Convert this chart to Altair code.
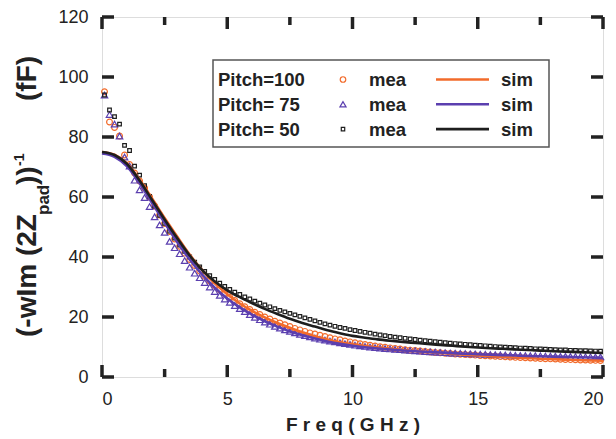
import altair as alt
import pandas as pd

# ---------------- data ----------------
freq_mea = [0.1, 0.3, 0.5, 0.7, 0.9, 1.1, 1.3, 1.5, 1.7, 1.9,
            2.1, 2.3, 2.5, 2.7, 2.9, 3.1, 3.3, 3.5, 3.7, 3.9,
            4.1, 4.3, 4.5, 4.7, 4.9, 5.1, 5.3, 5.5, 5.7, 5.9,
            6.1, 6.3, 6.5, 6.7, 6.9, 7.1, 7.3, 7.5, 7.7, 7.9,
            8.1, 8.3, 8.5, 8.7, 8.9, 9.1, 9.3, 9.5, 9.7, 9.9,
            10.1, 10.3, 10.5, 10.7, 10.9, 11.1, 11.3, 11.5, 11.7, 11.9,
            12.1, 12.3, 12.5, 12.7, 12.9, 13.1, 13.3, 13.5, 13.7, 13.9,
            14.1, 14.3, 14.5, 14.7, 14.9, 15.1, 15.3, 15.5, 15.7, 15.9,
            16.1, 16.3, 16.5, 16.7, 16.9, 17.1, 17.3, 17.5, 17.7, 17.9,
            18.1, 18.3, 18.5, 18.7, 18.9, 19.1, 19.3, 19.5, 19.7, 19.9]

mea_100 = [95.1, 85.0, 83.2, 80.3, 74.0, 70.8, 68.0, 65.3, 63.0, 60.0,
           57.0, 54.0, 51.2, 48.5, 46.0, 43.6, 41.3, 39.2, 37.2, 35.3,
           33.6, 32.0, 30.5, 29.1, 27.8, 26.6, 25.5, 24.4, 23.4, 22.5,
           21.6, 20.8, 20.0, 19.3, 18.6, 18.0, 17.4, 16.8, 16.2, 15.7,
           15.2, 14.7, 14.3, 13.9, 13.5, 13.1, 12.7, 12.4, 12.0, 11.7,
           11.4, 11.1, 10.8, 10.6, 10.3, 10.1, 9.9, 9.7, 9.5, 9.3,
           9.1, 8.95, 8.8, 8.65, 8.5, 8.35, 8.2, 8.1, 7.95, 7.85,
           7.7, 7.6, 7.5, 7.4, 7.3, 7.2, 7.1, 7.0, 6.9, 6.8,
           6.75, 6.65, 6.55, 6.5, 6.4, 6.35, 6.25, 6.2, 6.1, 6.05,
           6.0, 5.9, 5.85, 5.8, 5.75, 5.7, 5.65, 5.6, 5.55, 5.5]

mea_75 = [94.0, 87.5, 84.3, 80.3, 73.3, 70.3, 65.6, 62.4, 59.8, 56.8,
          53.4, 50.7, 48.2, 45.2, 43.1, 41.1, 38.8, 36.6, 34.6, 33.1,
          31.5, 30.0, 28.5, 27.2, 26.0, 24.9, 23.8, 22.8, 21.8, 20.8,
          19.9, 19.1, 18.3, 17.6, 16.9, 16.3, 15.7, 15.2, 14.7, 14.2,
          13.8, 13.4, 13.0, 12.6, 12.3, 12.0, 11.7, 11.4, 11.1, 10.9,
          10.6, 10.4, 10.2, 10.0, 9.8, 9.65, 9.5, 9.35, 9.2, 9.1,
          8.95, 8.85, 8.75, 8.6, 8.5, 8.4, 8.3, 8.2, 8.1, 8.0,
          7.95, 7.9, 7.8, 7.75, 7.7, 7.6, 7.55, 7.5, 7.45, 7.4,
          7.35, 7.3, 7.25, 7.2, 7.15, 7.1, 7.1, 7.05, 7.0, 7.0,
          6.95, 6.9, 6.9, 6.85, 6.8, 6.8, 6.75, 6.75, 6.7, 6.7]

mea_50 = [94.0, 89.0, 86.8, 84.3, 77.2, 75.5, 70.3, 67.3, 63.8, 60.2,
          57.0, 53.9, 51.2, 48.6, 46.3, 44.0, 41.9, 40.0, 38.3, 36.7,
          35.2, 33.8, 32.5, 31.3, 30.2, 29.2, 28.3, 27.5, 26.7, 26.0,
          25.3, 24.6, 24.0, 23.4, 22.8, 22.2, 21.7, 21.2, 20.7, 20.2,
          19.7, 19.2, 18.7, 18.2, 17.7, 17.3, 16.9, 16.5, 16.2, 15.8,
          15.5, 15.2, 14.9, 14.6, 14.3, 14.0, 13.8, 13.5, 13.3, 13.1,
          12.9, 12.7, 12.5, 12.3, 12.1, 11.95, 11.8, 11.6, 11.45, 11.3,
          11.15, 11.0, 10.9, 10.75, 10.6, 10.5, 10.4, 10.25, 10.15, 10.05,
          9.95, 9.85, 9.75, 9.65, 9.6, 9.5, 9.4, 9.35, 9.25, 9.2,
          9.1, 9.05, 9.0, 8.9, 8.85, 8.8, 8.75, 8.7, 8.65, 8.6]

freq_sim = [0.0, 0.5, 1.0, 1.5, 2.0, 2.5, 3.0, 3.5, 4.0, 4.5,
            5.0, 5.5, 6.0, 6.5, 7.0, 7.5, 8.0, 8.5, 9.0, 9.5,
            10.0, 10.5, 11.0, 11.5, 12.0, 12.5, 13.0, 13.5, 14.0, 14.5,
            15.0, 15.5, 16.0, 16.5, 17.0, 17.5, 18.0, 18.5, 19.0, 19.5, 20.0]

sim_100 = [75.0, 74.1, 71.2, 65.8, 59.5, 53.0, 46.8, 40.8, 35.6, 31.2,
           27.6, 24.5, 22.0, 19.9, 18.0, 16.4, 14.9, 13.6, 12.5, 11.6,
           10.9, 10.35, 9.85, 9.4, 9.0, 8.65, 8.3, 8.0, 7.7, 7.4,
           7.15, 6.9, 6.7, 6.5, 6.3, 6.1, 5.95, 5.8, 5.65, 5.5, 5.4]

sim_75 = [74.5, 73.4, 70.2, 64.6, 58.0, 51.4, 45.0, 39.2, 34.1, 29.8,
          26.2, 23.2, 20.7, 18.6, 16.8, 15.2, 13.9, 12.8, 11.85, 11.05,
          10.4, 9.9, 9.5, 9.15, 8.85, 8.6, 8.35, 8.15, 7.95, 7.75,
          7.6, 7.45, 7.3, 7.15, 7.0, 6.9, 6.8, 6.7, 6.6, 6.5, 6.4]

sim_50 = [75.0, 74.0, 71.0, 65.5, 59.0, 52.5, 46.3, 40.5, 35.6, 31.8,
          28.9, 26.6, 24.6, 22.7, 21.0, 19.4, 18.0, 16.8, 15.6, 14.6,
          13.7, 13.1, 12.55, 12.1, 11.7, 11.35, 11.0, 10.7, 10.4, 10.1,
          9.85, 9.6, 9.4, 9.2, 9.0, 8.8, 8.6, 8.45, 8.3, 8.15, 8.0]

pitch_labels = ["Pitch=100", "Pitch= 75", "Pitch= 50"]
mea_label = "mea"
sim_label = "sim"
colors = ["#F26B2B", "#5B3FAF", "#1E1E1E"]
shapes = ["circle", "triangle-up", "square"]
marker_sizes = [34, 42, 13]

x_major = [0, 5, 10, 15, 20]
x_minor = [2.5, 7.5, 12.5, 17.5]
y_major = [0, 20, 40, 60, 80, 100, 120]

# ---------------- layout ----------------
W, H = 501, 360
FONT = "Liberation Sans"
TXT = "#222222"

xs = alt.Scale(domain=[0, 20], nice=False, zero=False)
ys = alt.Scale(domain=[0, 120], nice=False, zero=False)
x_axis = alt.Axis(values=x_major, ticks=False, tickSize=0, domain=False, grid=False,
                  labelFontSize=18, labelPadding=13, labelFont=FONT, labelColor=TXT,
                  title="F r e q ( G H z )", titleFont=FONT, titleFontSize=19,
                  titleFontWeight="bold", titleColor=TXT, titlePadding=7)
y_axis = alt.Axis(values=y_major, ticks=False, tickSize=0, domain=False, grid=False,
                  labelFontSize=18, labelPadding=14, labelFont=FONT, labelColor=TXT,
                  title=None)
X = alt.X("f:Q", scale=xs, axis=x_axis)
Y = alt.Y("v:Q", scale=ys, axis=y_axis)

mea_series = [mea_100, mea_75, mea_50]
sim_series = [sim_100, sim_75, sim_50]

layers = []
# measured points
for vals, col, shp, sz in zip(mea_series, colors, shapes, marker_sizes):
    df = pd.DataFrame({"f": freq_mea, "v": vals})
    layers.append(alt.Chart(df).mark_point(shape=shp, filled=False, color=col,
                                           size=sz, strokeWidth=1.2, opacity=1)
                  .encode(x=X, y=Y))
# simulated lines
for vals, col in zip(sim_series, colors):
    df = pd.DataFrame({"f": freq_sim, "v": vals})
    layers.append(alt.Chart(df).mark_line(color=col, strokeWidth=2.6,
                                          interpolate="monotone")
                  .encode(x=X, y=Y))

# inward ticks
xmaj = pd.DataFrame({"f": x_major})
xmin = pd.DataFrame({"f": x_minor})
ymaj = pd.DataFrame({"v": y_major})
tick = dict(color="#222222", strokeWidth=3.5)
layers += [
    alt.Chart(xmaj).mark_rule(**tick).encode(x=X, y=alt.value(H), y2=alt.value(H - 12)),
    alt.Chart(xmaj).mark_rule(**tick).encode(x=X, y=alt.value(0), y2=alt.value(12)),
    alt.Chart(xmin).mark_rule(**tick).encode(x=X, y=alt.value(H), y2=alt.value(H - 8)),
    alt.Chart(xmin).mark_rule(**tick).encode(x=X, y=alt.value(0), y2=alt.value(8)),
    alt.Chart(ymaj).mark_rule(**tick).encode(y=Y, x=alt.value(0), x2=alt.value(12)),
    alt.Chart(ymaj).mark_rule(**tick).encode(y=Y, x=alt.value(W), x2=alt.value(W - 12)),
]

# legend box
one = pd.DataFrame({"k": [0]})
layers.append(alt.Chart(one).mark_rect(fill="white", stroke="#555555", strokeWidth=1.5)
              .encode(x=alt.value(111), x2=alt.value(447), y=alt.value(43), y2=alt.value(130)))
lt = dict(font=FONT, fontSize=18.5, fontWeight="bold", color=TXT, align="left",
          baseline="alphabetic")
for i in range(3):
    base = 68.5 + 25 * i
    mid = 62.5 + 24.8 * i
    layers.append(alt.Chart(pd.DataFrame({"t": [pitch_labels[i]]})).mark_text(**lt)
                  .encode(text="t:N", x=alt.value(116), y=alt.value(base)))
    layers.append(alt.Chart(one).mark_point(shape=shapes[i], filled=False, color=colors[i],
                                            size=marker_sizes[i] * 0.9, strokeWidth=1.2, opacity=1)
                  .encode(x=alt.value(241), y=alt.value(mid)))
    layers.append(alt.Chart(pd.DataFrame({"t": [mea_label]})).mark_text(**lt)
                  .encode(text="t:N", x=alt.value(267), y=alt.value(base)))
    layers.append(alt.Chart(one).mark_rule(color=colors[i], strokeWidth=2.6)
                  .encode(x=alt.value(334), x2=alt.value(387), y=alt.value(mid)))
    layers.append(alt.Chart(pd.DataFrame({"t": [sim_label]})).mark_text(**lt)
                  .encode(text="t:N", x=alt.value(399), y=alt.value(base)))

# y-axis title in pieces (rotated, read bottom to top)
yt = dict(font=FONT, fontWeight="bold", color=TXT, align="left", baseline="alphabetic", angle=270)
title_parts = [("(-wIm (2Z", 28, -66, 320),
               ("pad", 17, -53, 198),
               ("))", 28, -66, 168),
               ("-1", 14, -78, 149),
               ("(fF)", 28, -66, 84)]
for txt, fs, px, py in title_parts:
    layers.append(alt.Chart(pd.DataFrame({"t": [txt]})).mark_text(fontSize=fs, **yt)
                  .encode(text="t:N", x=alt.value(px), y=alt.value(py)))

chart = alt.layer(*layers).properties(
    width=W, height=H,
    autosize=alt.AutoSizeParams(type="none"),
    padding={"left": 94, "top": 9, "right": 5, "bottom": 60},
).configure_view(stroke="#222222", strokeWidth=4).configure(background="white")

chart.save("out.html", embed_options={"renderer": "svg", "actions": False})
